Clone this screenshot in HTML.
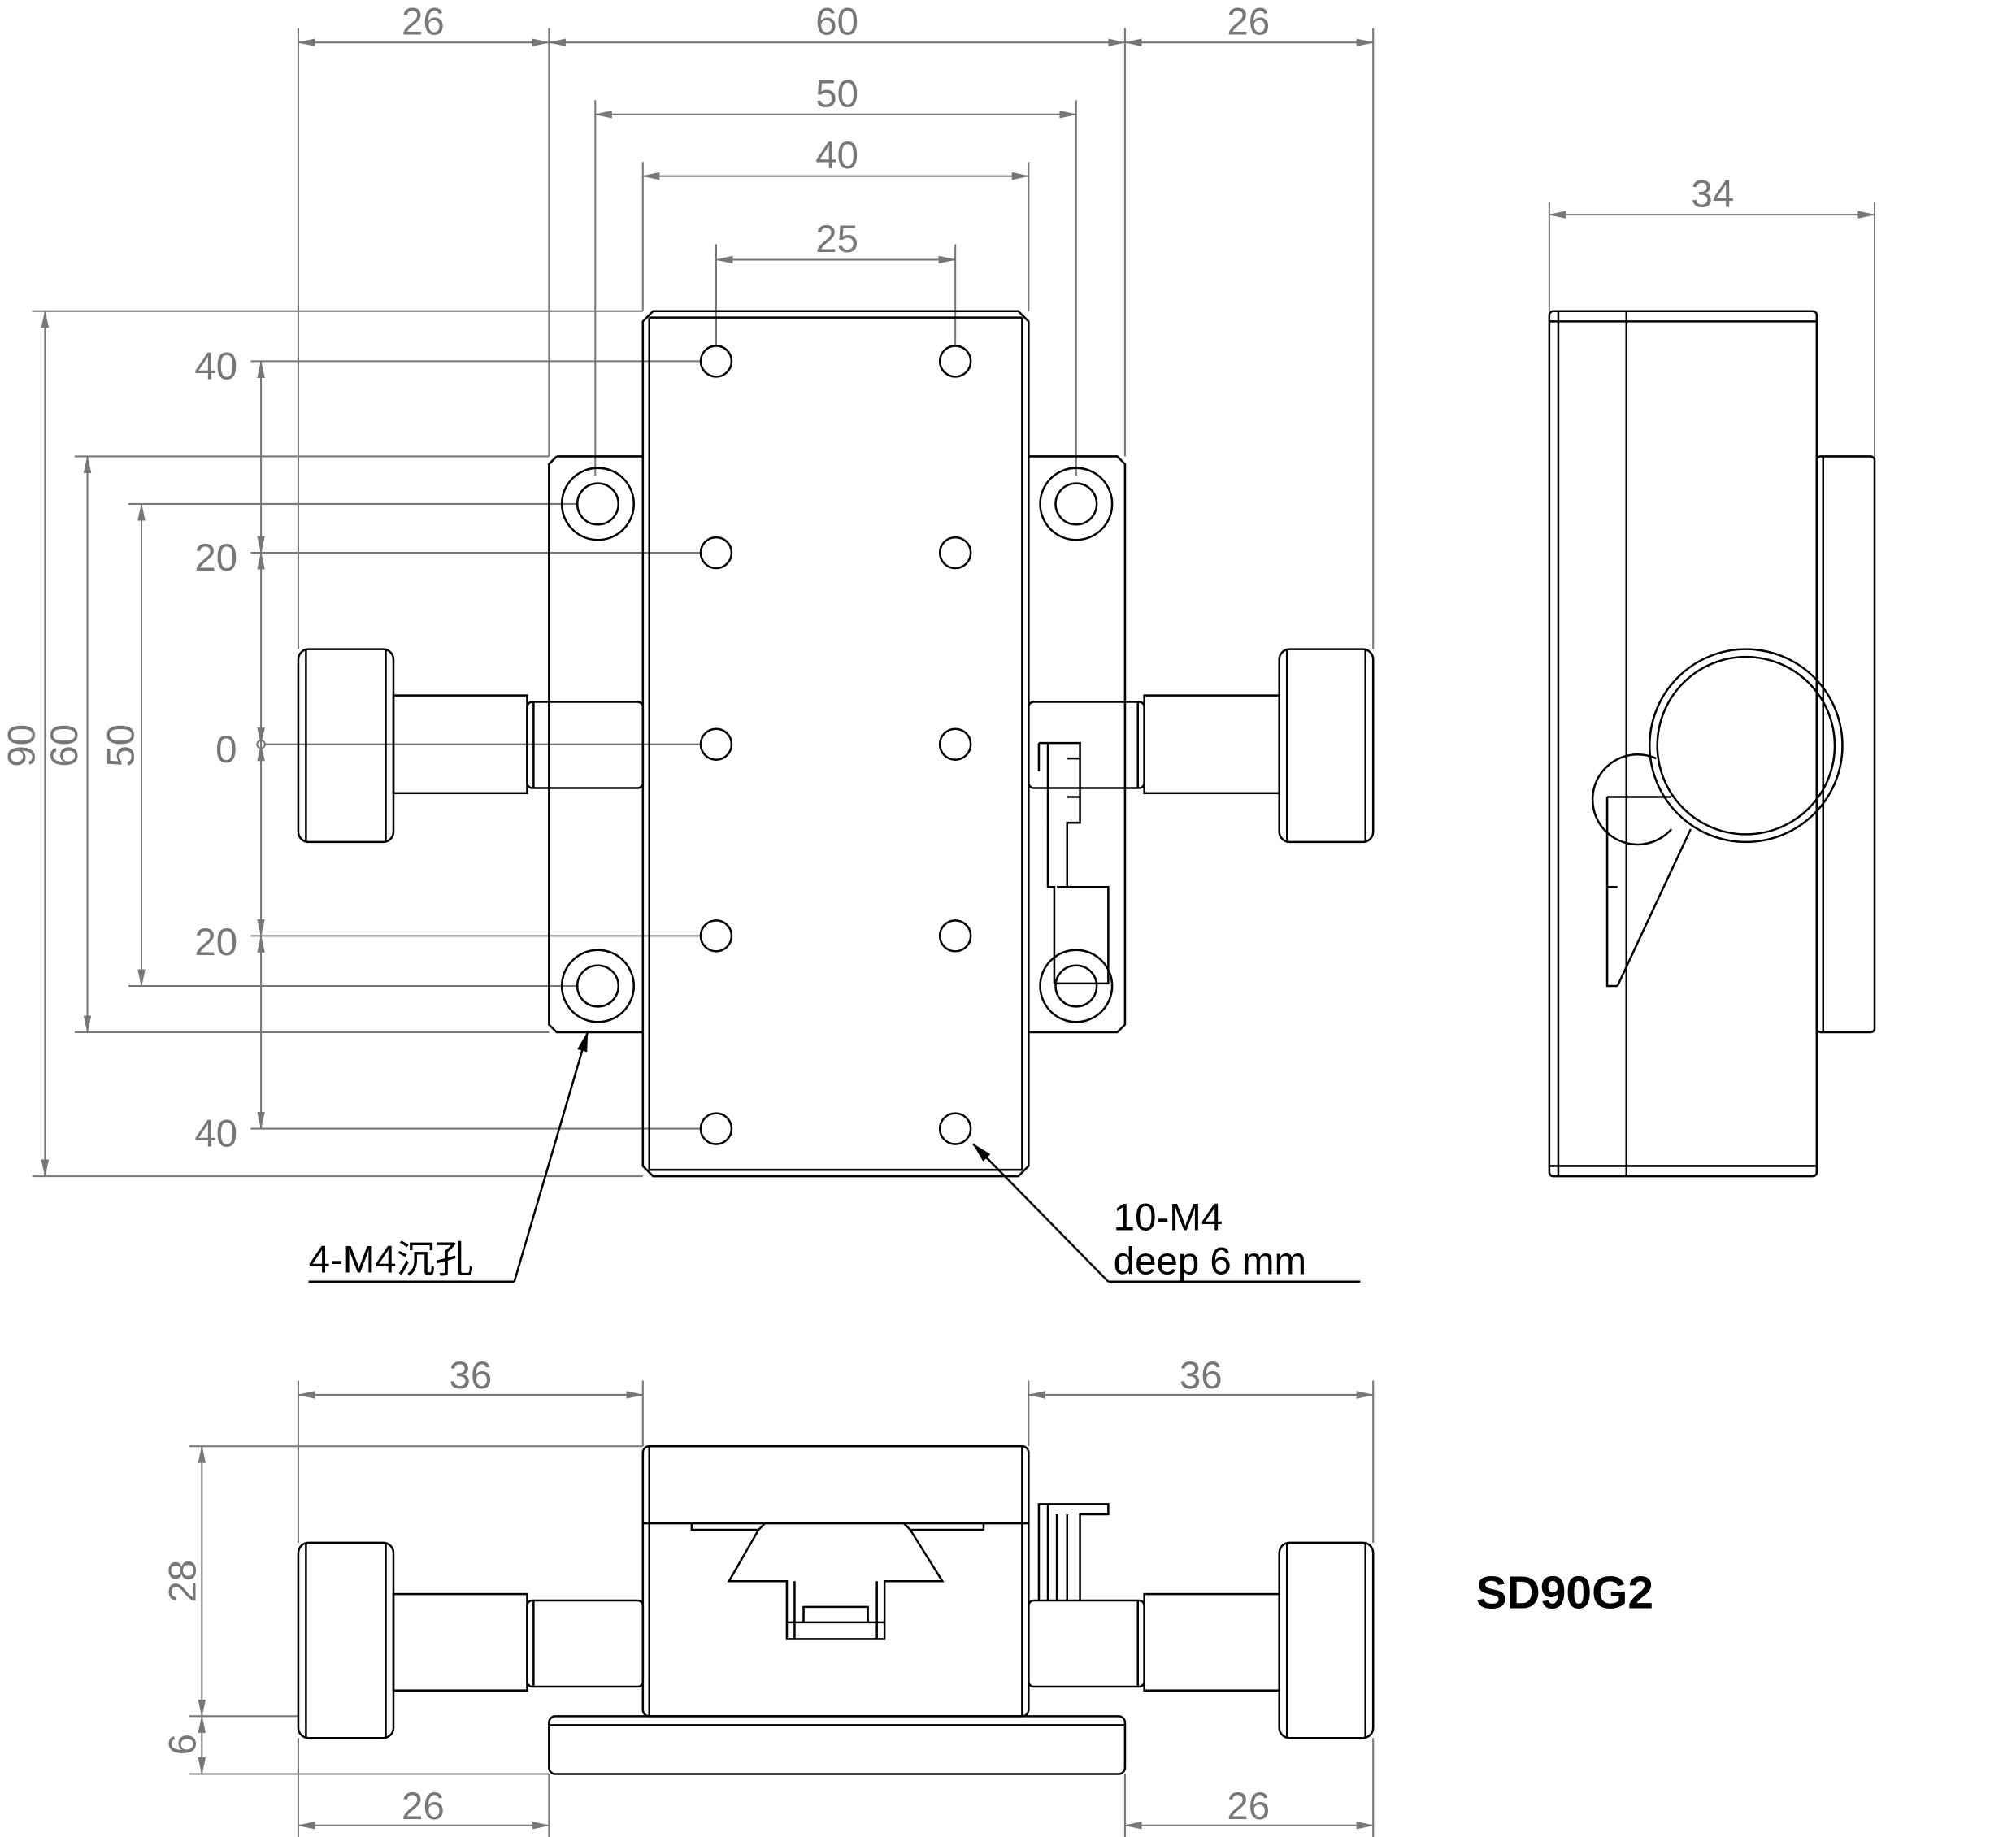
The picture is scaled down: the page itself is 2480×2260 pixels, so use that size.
<!DOCTYPE html>
<html><head><meta charset="utf-8"><style>html,body{margin:0;padding:0;background:#fff}svg{display:block}</style></head>
<body>
<svg width="2480" height="2260" viewBox="0 0 1568 1429" preserveAspectRatio="none" xmlns="http://www.w3.org/2000/svg">
<defs>
<marker id="a" markerWidth="14" markerHeight="8" refX="13" refY="4" orient="auto-start-reverse" markerUnits="userSpaceOnUse"><path d="M0,1 L14,4 L0,7 Z" fill="#777"/></marker>
<marker id="b" markerWidth="16" markerHeight="10" refX="15" refY="5" orient="auto" markerUnits="userSpaceOnUse"><path d="M0,1 L16,5 L0,9 Z" fill="#000"/></marker>
</defs>
<g fill="none" stroke="#777" stroke-width="1.3">
<line x1="232" y1="33" x2="427" y2="33" marker-start="url(#a)" marker-end="url(#a)"/>
<line x1="427" y1="33" x2="875" y2="33" marker-start="url(#a)" marker-end="url(#a)"/>
<line x1="875" y1="33" x2="1068" y2="33" marker-start="url(#a)" marker-end="url(#a)"/>
<line x1="463" y1="89" x2="837" y2="89" marker-start="url(#a)" marker-end="url(#a)"/>
<line x1="500" y1="137" x2="800" y2="137" marker-start="url(#a)" marker-end="url(#a)"/>
<line x1="557" y1="202" x2="743" y2="202" marker-start="url(#a)" marker-end="url(#a)"/>
<path d="M232 22V505 M427 22V355 M875 22V355 M1068 22V505 M463 78V370 M837 78V370 M500 126V242 M800 126V242 M557 190V268 M743 190V268"/>
<line x1="35" y1="242" x2="35" y2="915" marker-start="url(#a)" marker-end="url(#a)"/>
<line x1="68" y1="355" x2="68" y2="803" marker-start="url(#a)" marker-end="url(#a)"/>
<line x1="110" y1="392" x2="110" y2="767" marker-start="url(#a)" marker-end="url(#a)"/>
<line x1="203" y1="281" x2="203" y2="430" marker-start="url(#a)" marker-end="url(#a)"/>
<line x1="203" y1="430" x2="203" y2="579" marker-start="url(#a)" marker-end="url(#a)"/>
<line x1="203" y1="579" x2="203" y2="728" marker-start="url(#a)" marker-end="url(#a)"/>
<line x1="203" y1="728" x2="203" y2="878" marker-start="url(#a)" marker-end="url(#a)"/>
<circle cx="203" cy="579" r="3"/>
<path d="M25 242H500 M58 355H427 M100 392H450 M100 767H450 M58 803H427 M25 915H500 M195 281H545 M195 430H545 M206 579H545 M195 728H545 M195 878H545"/>
<line x1="1205" y1="167" x2="1458" y2="167" marker-start="url(#a)" marker-end="url(#a)"/>
<path d="M1205 157V242 M1458 157V355"/>
<line x1="232" y1="1085" x2="500" y2="1085" marker-start="url(#a)" marker-end="url(#a)"/>
<line x1="800" y1="1085" x2="1068" y2="1085" marker-start="url(#a)" marker-end="url(#a)"/>
<line x1="232" y1="1420" x2="427" y2="1420" marker-start="url(#a)" marker-end="url(#a)"/>
<line x1="875" y1="1420" x2="1068" y2="1420" marker-start="url(#a)" marker-end="url(#a)"/>
<line x1="157" y1="1125" x2="157" y2="1335" marker-start="url(#a)" marker-end="url(#a)"/>
<line x1="157" y1="1335" x2="157" y2="1380" marker-start="url(#a)" marker-end="url(#a)"/>
<path d="M232 1074V1200 M500 1074V1125 M800 1074V1125 M1068 1074V1200 M232 1352V1430 M427 1380V1430 M875 1380V1430 M1068 1352V1430 M147 1125H500 M147 1335H232 M147 1380H427"/>
</g>
<g fill="#777" font-family="Liberation Sans, sans-serif" font-size="30" text-anchor="middle">
<text x="329" y="27">26</text><text x="651" y="27">60</text><text x="971" y="27">26</text>
<text x="651" y="83">50</text><text x="651" y="131">40</text><text x="651" y="196">25</text>
<text x="1332" y="161">34</text>
<text x="168" y="295">40</text><text x="168" y="444">20</text><text x="176" y="593">0</text><text x="168" y="743">20</text><text x="168" y="892">40</text>
<text transform="translate(27,580) rotate(-90)">90</text>
<text transform="translate(60,580) rotate(-90)">60</text>
<text transform="translate(104,580) rotate(-90)">50</text>
<text x="366" y="1080">36</text><text x="934" y="1080">36</text>
<text x="329" y="1415">26</text><text x="971" y="1415">26</text>
<text transform="translate(152,1230) rotate(-90)">28</text>
<text transform="translate(152,1357) rotate(-90)">6</text>
</g>
<g fill="none" stroke="#000" stroke-width="1.6">
<path d="M433 355H500 M800 355H869L875 361V797L869 803H800 M500 803H433L427 797V361L433 355"/>
<path d="M508 242H792L800 250V907L792 915H508L500 907V250Z"/>
<path d="M505 247V910 M795 247V910 M505 247H795 M505 910H795"/>
<g>
<circle cx="465" cy="392" r="28"/><circle cx="465" cy="392" r="16"/>
<circle cx="837" cy="392" r="28"/><circle cx="837" cy="392" r="16"/>
<circle cx="465" cy="767" r="28"/><circle cx="465" cy="767" r="16"/>
<circle cx="837" cy="767" r="28"/><circle cx="837" cy="767" r="16"/>
</g>
<g>
<circle cx="557" cy="281" r="12"/><circle cx="743" cy="281" r="12"/>
<circle cx="557" cy="430" r="12"/><circle cx="743" cy="430" r="12"/>
<circle cx="557" cy="579" r="12"/><circle cx="743" cy="579" r="12"/>
<circle cx="557" cy="728" r="12"/><circle cx="743" cy="728" r="12"/>
<circle cx="557" cy="878" r="12"/><circle cx="743" cy="878" r="12"/>
</g>
<rect x="232" y="505" width="74" height="150" rx="8"/>
<path d="M238 505V655 M300 505V655"/>
<rect x="306" y="541" width="104" height="76"/>
<rect x="410" y="546" width="90" height="67" rx="4"/><path d="M415 546V613"/>
<rect x="995" y="505" width="73" height="150" rx="8"/>
<path d="M1001 505V655 M1062 505V655"/>
<rect x="890" y="541" width="105" height="76"/>
<rect x="800" y="546" width="90" height="67" rx="4"/><path d="M885 546V613"/>
<path d="M808 578H840V640H830V690 M808 578V600 M815 578V690H820V765 M822 690H862V765H820"/>
<path d="M830 590H840 M830 620H840"/>
<rect x="1205" y="242" width="208" height="673" rx="3"/>
<path d="M1212 242V915 M1265 242V915 M1205 250H1413 M1205 907H1413"/>
<rect x="1413" y="355" width="45" height="448" rx="3"/>
<path d="M1418 355V803"/>
<circle cx="1358" cy="580" r="75"/><circle cx="1358" cy="580" r="69"/>
<path d="M1288 590A35 35 0 1 0 1300 645 M1250 620H1300 M1250 620V767H1258 M1258 767L1315 645 M1250 690H1258"/>
<rect x="500" y="1125" width="300" height="210" rx="5"/>
<path d="M500 1185H800 M505 1125V1335 M795 1125V1335"/>
<path d="M538 1185V1190H590L567 1230H612V1275H688V1230H733L708 1190H765V1185"/>
<path d="M590 1190L595 1185 M708 1190L703 1185 M618 1230V1275 M682 1230V1275 M625 1250H675V1262H625Z M612 1262H688"/>
<rect x="427" y="1335" width="448" height="45" rx="5"/><path d="M427 1342H875"/>
<rect x="232" y="1200" width="74" height="152" rx="8"/><path d="M238 1200V1352 M300 1200V1352"/>
<rect x="306" y="1240" width="104" height="75"/>
<rect x="410" y="1245" width="90" height="67" rx="4"/><path d="M415 1245V1312"/>
<rect x="995" y="1200" width="73" height="152" rx="8"/><path d="M1001 1200V1352 M1062 1200V1352"/>
<rect x="890" y="1240" width="105" height="75"/>
<rect x="800" y="1245" width="90" height="67" rx="4"/><path d="M885 1245V1312"/>
<path d="M808 1245V1170H862V1178H840V1245 M815 1170V1245 M822 1178V1245 M830 1178V1245"/>
<line x1="400" y1="997" x2="457" y2="803" marker-end="url(#b)"/>
<path d="M240 997H400"/>
<line x1="862" y1="997" x2="757" y2="890" marker-end="url(#b)"/>
<path d="M862 997H1058"/>
</g>
<g fill="#000" font-family="Liberation Sans, 'Noto Sans CJK SC', sans-serif" font-size="30">
<text x="240" y="990">4-M4沉孔</text>
<text x="866" y="957">10-M4</text>
<text x="866" y="991">deep 6 mm</text>
<text x="1148" y="1251" font-size="36" font-weight="bold">SD90G2</text>
</g>
</svg>
</body></html>
